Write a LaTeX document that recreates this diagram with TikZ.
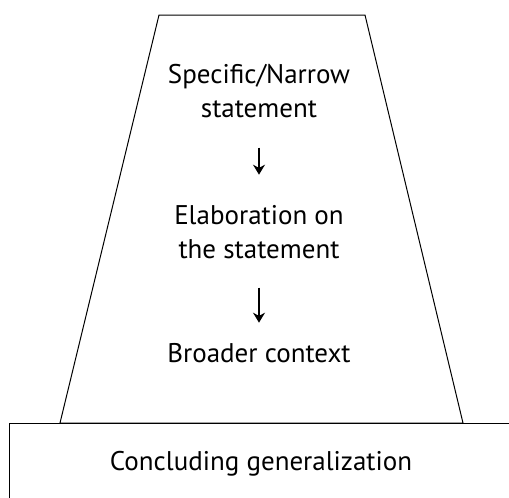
\documentclass[tikz,border=0pt]{standalone}
\usepackage{fontspec}
\setmainfont{PT Sans}
\usetikzlibrary{arrows.meta}

\begin{document}
\begin{tikzpicture}[x=1pt, y=-1pt,
        outline/.style={draw, line width=1pt},
        stage/.style={align=center, inner sep=0pt, font=\fontsize{27}{34}\selectfont},
        flow/.style={-{Stealth[length=10pt, width=12pt]}, line width=2.4pt}
    ]
    \useasboundingbox (0,0) rectangle (509,498);
    % the funnel and the base block
    \draw[outline] (159,15) -- (365,15) -- (463,423) -- (60,423) -- cycle;
    \draw[outline] (9,498) -- (9,423) -- (509,423);

    \node[stage, anchor=base] (specific) at (259,117) {Specific/Narrow\\statement};
    \node[stage, anchor=base] (elab) at (259,258) {Elaboration on\\the statement};
    \node[stage, anchor=base] (broad) at (259,362) {Broader context};
    \node[stage, anchor=base] (concl) at (261,470) {Concluding generalization};

    \draw[flow, shorten <=30pt, shorten >=30pt] (specific) -- (elab);
    \draw[flow, shorten <=29pt, shorten >=20pt] (elab) -- (broad);
\end{tikzpicture}
\end{document}
